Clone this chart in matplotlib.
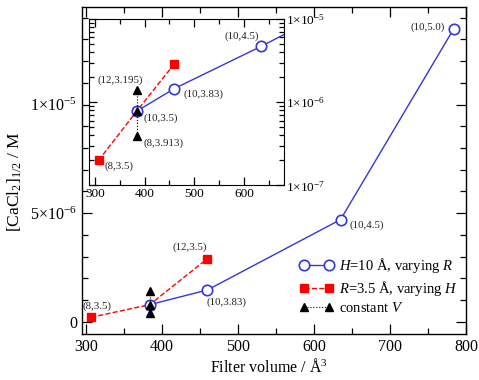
import matplotlib
matplotlib.use('Agg')
import matplotlib.pyplot as plt
from matplotlib.ticker import MultipleLocator, LogLocator, NullFormatter, FixedLocator

plt.rcParams['font.family'] = ['Liberation Serif', 'DejaVu Serif']
plt.rcParams['mathtext.fontset'] = 'custom'
plt.rcParams['mathtext.rm'] = 'Liberation Serif'
plt.rcParams['mathtext.it'] = 'Liberation Serif:italic'

# Data
vary_R_x = [384, 460, 635, 784]
vary_R_y = [0.78e-6, 1.46e-6, 4.70e-6, 1.35e-5]
vary_R_lab = ['(10,3.5)', '(10,3.83)', '(10,4.5)', '(10,5.0)']

vary_H_x = [307, 384, 460]
vary_H_y = [0.20e-6, 0.78e-6, 2.90e-6]
vary_H_lab = ['(8,3.5)', '(10,3.5)', '(12,3.5)']

const_V_x = [384, 384, 384]
const_V_y = [1.42e-6, 0.78e-6, 0.39e-6]
const_V_lab = ['(12,3.195)', '(10,3.5)', '(8,3.913)']

blue = '#3535d8'
red = '#ff0000'

fig = plt.figure(figsize=(4.79, 3.80), dpi=100)
ax = fig.add_axes([0.171, 0.121, 0.802, 0.861])


def draw_series(a):
    a.plot(vary_H_x, vary_H_y, '--s', color=red, ms=6, lw=1,
           label=r'$R$=3.5 Å, varying $H$', zorder=3)
    a.plot(vary_R_x, vary_R_y, '-o', color=blue, mfc='white', mec=blue, ms=7.5, mew=1.2, lw=1,
           label=r'$H$=10 Å, varying $R$', zorder=4)
    a.plot(const_V_x, const_V_y, ':^', color='black', ms=5.5, lw=0.8,
           label=r'constant $V$', zorder=5)


draw_series(ax)

ax.set_xlim(295, 800)
ax.set_ylim(-0.57e-6, 1.45e-5)
ax.xaxis.set_major_locator(MultipleLocator(100))
ax.xaxis.set_minor_locator(MultipleLocator(50))
ax.yaxis.set_major_locator(FixedLocator([0, 5e-6, 1e-5]))
ax.yaxis.set_minor_locator(MultipleLocator(1e-6))
ax.set_yticklabels(['0', r'5$\times$10$^{-6}$', r'1$\times$10$^{-5}$'])
ax.tick_params(which='both', direction='in', top=True, right=True, labelsize=11.5)
ax.tick_params(which='major', length=7, width=0.9)
ax.tick_params(which='minor', length=4, width=0.9)
for s in ax.spines.values():
    s.set_linewidth(1)

ax.set_xlabel('Filter volume / Å$^3$', fontsize=11.5)
ax.set_ylabel(r'[CaCl$_2$]$_{\mathit{1/2}}$ / M', fontsize=12.5)
ax.xaxis.set_label_coords(0.487, -0.072)
ax.yaxis.set_label_coords(-0.152, 0.465)

fs = 7.8
main_offsets = [(4, 8), (-13, 8), (14, -9), (19, -4), (-19, 1)]
main_pts = [(vary_H_x[0], vary_H_y[0], vary_H_lab[0]),
            (vary_H_x[2], vary_H_y[2], vary_H_lab[2]),
            (vary_R_x[1], vary_R_y[1], vary_R_lab[1]),
            (vary_R_x[2], vary_R_y[2], vary_R_lab[2]),
            (vary_R_x[3], vary_R_y[3], vary_R_lab[3])]
for (x, y, t), off in zip(main_pts, main_offsets):
    ax.annotate(t, (x, y), xytext=off, textcoords='offset points',
                ha='center', va='center', fontsize=fs, color='#222222')

handles, labels = ax.get_legend_handles_labels()
order = [1, 0, 2]
ax.legend([handles[i] for i in order], [labels[i] for i in order],
          loc='upper left', bbox_to_anchor=(0.61, 0.345), bbox_transform=fig.transFigure,
          frameon=False, fontsize=10.5, numpoints=2, handlelength=2.3,
          handletextpad=0.4, labelspacing=0.25, borderpad=0)

# Inset (log scale)
ins = fig.add_axes([0.186, 0.512, 0.406, 0.438])
draw_series(ins)
ins.set_yscale('log')
ins.set_xlim(288, 680)
ins.set_ylim(1e-7, 1e-5)
ins.xaxis.set_major_locator(MultipleLocator(100))
ins.xaxis.set_minor_locator(MultipleLocator(50))
ins.yaxis.set_minor_locator(LogLocator(base=10, subs=range(2, 10)))
ins.yaxis.set_minor_formatter(NullFormatter())
ins.yaxis.set_major_locator(FixedLocator([1e-7, 1e-6, 1e-5]))
ins.set_yticklabels([r'1$\times$10$^{-7}$', r'1$\times$10$^{-6}$', r'1$\times$10$^{-5}$'])
ins.tick_params(which='both', direction='in', top=True, right=True, labelleft=False,
                labelright=True, labelsize=9.5, pad=2)
ins.tick_params(which='major', length=6, width=0.9)
ins.tick_params(which='minor', length=3.5, width=0.9)

ins_offsets = [(-12, 7), (17, -5), (19, -5), (15, -4), (21, -4), (-14, 7)]
ins_pts = [(const_V_x[0], const_V_y[0], const_V_lab[0]),
           (const_V_x[1], const_V_y[1], const_V_lab[1]),
           (const_V_x[2], const_V_y[2], const_V_lab[2]),
           (vary_H_x[0], vary_H_y[0], vary_H_lab[0]),
           (vary_R_x[1], vary_R_y[1], vary_R_lab[1]),
           (vary_R_x[2], vary_R_y[2], vary_R_lab[2])]
for (x, y, t), off in zip(ins_pts, ins_offsets):
    ins.annotate(t, (x, y), xytext=off, textcoords='offset points',
                 ha='center', va='center', fontsize=fs, color='#222222')

fig.savefig('out.png', dpi=100)
